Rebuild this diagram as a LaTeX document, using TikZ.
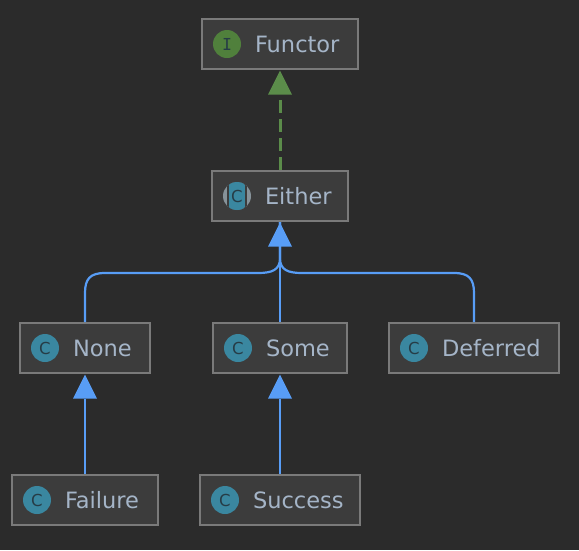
\documentclass[tikz,border=0pt]{standalone}
\usepackage{fontspec}
\setmainfont{DejaVu Sans}
\newfontfamily\iconfont{DejaVu Sans Mono}
\usetikzlibrary{arrows.meta}
\usetikzlibrary{positioning}
\definecolor{canvas}{RGB}{43, 43, 43}
\definecolor{boxfill}{RGB}{60, 60, 60}
\definecolor{boxline}{RGB}{122, 122, 122}
\definecolor{labeltext}{RGB}{165, 181, 200}
\definecolor{extendblue}{RGB}{88, 157, 246}
\definecolor{implgreen}{RGB}{91, 140, 74}
\definecolor{iconteal}{RGB}{58, 135, 160}
\definecolor{icongreen}{RGB}{80, 128, 60}
\definecolor{iconink}{RGB}{38, 60, 70}
\definecolor{abstractgray}{RGB}{135, 147, 154}
\tikzset{
    classbox/.style={draw=boxline, fill=boxfill, line width=2pt, minimum height=50pt, inner sep=0pt, outer sep=1pt},
    classlabel/.style={anchor=west, inner sep=0pt, outer sep=0pt, text=labeltext, text height=16.4pt, text depth=0pt, font=\fontsize{22.5}{27}\selectfont},
    classicon/.style={circle, fill=iconteal, minimum size=28pt, inner sep=0pt, outer sep=0pt, text=iconink, font=\fontsize{16.5}{18}\selectfont},
    ifaceicon/.style={classicon, fill=icongreen, font=\iconfont\fontsize{16.5}{18}\selectfont},
    extendsline/.style={draw=extendblue, line width=2.2pt},
    extendstip/.style={extendsline, line width=2.5pt, shorten >=0.5pt, -{Triangle[length=24pt, width=24pt, line width=0pt, fill=extendblue]}},
    implementsline/.style={draw=implgreen, line width=3pt, shorten >=0.5pt, dash pattern=on 13pt off 6pt, -{Triangle[length=24pt, width=24pt, line width=0pt, fill=implgreen]}}
}
\begin{document}
\begin{tikzpicture}[x=1pt, y=-1pt]
            \fill[canvas] (0,0) rectangle (579,550);
            \node[classbox, minimum width=156pt] (functor)  at (280, 44)  {};
            \node[classbox, minimum width=136pt] (either)   at (280, 196) {};
            \node[classbox, minimum width=130pt] (none)     at (85,  348) {};
            \node[classbox, minimum width=134pt] (some)     at (280, 348) {};
            \node[classbox, minimum width=170pt] (deferred) at (474, 348) {};
            \node[classbox, minimum width=146pt] (failure)  at (85,  500) {};
            \node[classbox, minimum width=160pt] (success)  at (280, 500) {};

            \node[ifaceicon] (functoricon)  at ([xshift=26pt]functor.west)  {I};
            \node[classicon, fill=abstractgray, path picture={
                    \fill[boxfill] ([xshift=-10pt]path picture bounding box.south) rectangle ([xshift=10pt]path picture bounding box.north);
                    \fill[iconteal] ([xshift=-8pt]path picture bounding box.south) rectangle ([xshift=8pt]path picture bounding box.north);
                }] (eithericon) at ([xshift=26pt]either.west) {C};
            \node[classicon] (noneicon)     at ([xshift=26pt]none.west)     {C};
            \node[classicon] (someicon)     at ([xshift=26pt]some.west)     {C};
            \node[classicon] (deferredicon) at ([xshift=26pt]deferred.west) {C};
            \node[classicon] (failureicon)  at ([xshift=26pt]failure.west)  {C};
            \node[classicon] (successicon)  at ([xshift=26pt]success.west)  {C};

            \node[classlabel, right=54pt of functor.west]  (functorlabel)  {Functor};
            \node[classlabel, right=54pt of either.west]   (eitherlabel)   {Either};
            \node[classlabel, right=54pt of none.west]     (nonelabel)     {None};
            \node[classlabel, right=54pt of some.west]     (somelabel)     {Some};
            \node[classlabel, right=54pt of deferred.west] (deferredlabel) {Deferred};
            \node[classlabel, right=54pt of failure.west]  (failurelabel)  {Failure};
            \node[classlabel, right=54pt of success.west]  (successlabel)  {Success};

            \draw[implementsline] (either.north) -- (functor.south);
            \draw[extendsline] (none.north) -- (85,293) .. controls (85,279) and (90,273) .. (105,273)
                 -- (258,273) .. controls (272,273) and (280,270) .. (280,258) -- (either.south);
            \draw[extendsline] (deferred.north) -- (474,293) .. controls (474,279) and (469,273) .. (454,273)
                 -- (302,273) .. controls (288,273) and (280,270) .. (280,258) -- (either.south);
            \draw[extendstip] (some.north) -- (either.south);
            \draw[extendstip] (failure.north) -- (none.south);
            \draw[extendstip] (success.north) -- (some.south);
        \end{tikzpicture}
\end{document}
